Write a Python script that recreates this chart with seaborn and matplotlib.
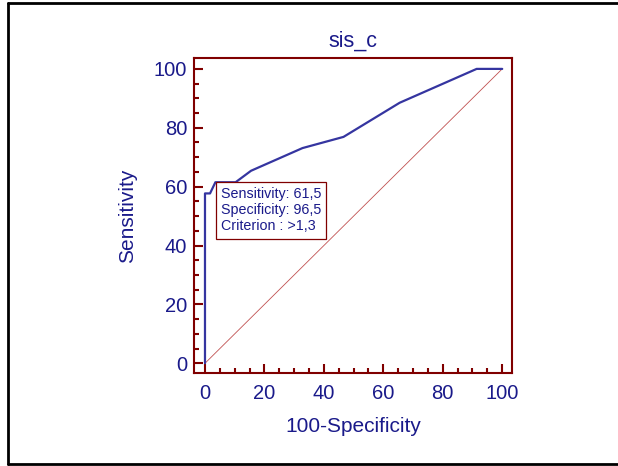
import matplotlib
matplotlib.use("Agg")
import matplotlib.pyplot as plt
from matplotlib.lines import Line2D
from matplotlib.ticker import MultipleLocator
import seaborn as sns
import pandas as pd

# ROC curve points (100-Specificity, Sensitivity)
fpr = [0, 0, 1.7, 3.5, 10.3, 15.5, 32.8, 46.6, 65.5, 91.4, 100]
sens = [0, 57.7, 57.7, 61.5, 61.5, 65.4, 73.1, 76.9, 88.5, 100, 100]
diag_x = [0, 100]
diag_y = [0, 100]
title = "sis_c"
xlabel = "100-Specificity"
ylabel = "Sensitivity"
annot_lines = ["Sensitivity: 61,5", "Specificity: 96,5", "Criterion : >1,3"]
annot_point = (3.5, 61.5)
ticks = [0, 20, 40, 60, 80, 100]

sns.set_style("white")
plt.rcParams['font.family'] = ['Liberation Sans', 'DejaVu Sans']

navy = "#1a1a8a"
frame = "#800000"
curve = "#3535a0"

fig = plt.figure(figsize=(6.18, 4.66), dpi=100)
ax = fig.add_axes([0.3139, 0.2002, 0.829 - 0.3139, 0.8749 - 0.2002])

df = pd.DataFrame({"x": fpr, "y": sens})
dd = pd.DataFrame({"x": diag_x, "y": diag_y})
sns.lineplot(data=dd, x="x", y="y", ax=ax, color="#c05050", lw=0.6,
             sort=False, estimator=None)
sns.lineplot(data=df, x="x", y="y", ax=ax, color=curve, lw=1.6,
             sort=False, estimator=None)

ax.set_xlim(-3.7, 103.4)
ax.set_ylim(-3.2, 103.6)
ax.set_xticks(ticks)
ax.set_yticks(ticks)
ax.xaxis.set_minor_locator(MultipleLocator(5))
ax.yaxis.set_minor_locator(MultipleLocator(5))
ax.tick_params(which="major", direction="in", length=6.5, width=1.5,
               color=frame, labelcolor=navy, labelsize=14.5)
ax.tick_params(which="minor", direction="in", length=3.3, width=1.5, color=frame)
ax.tick_params(axis="x", pad=8)
ax.tick_params(axis="y", pad=5)
ax.tick_params(top=False, right=False, which="both")
ax.tick_params(bottom=True, left=True, which="both")
for s in ax.spines.values():
    s.set_color(frame)
    s.set_linewidth(1.5)
    s.set_visible(True)

ax.set_xlabel(xlabel, color=navy, fontsize=15, labelpad=10)
ax.set_ylabel(ylabel, color=navy, fontsize=15, labelpad=12)
ax.set_title(title, color=navy, fontsize=15.5, pad=8)

ax.annotate("\n".join(annot_lines), xy=annot_point, xycoords="data",
            xytext=(3.8, -3.5), textcoords="offset points",
            ha="left", va="top", fontsize=10.3, color=navy, linespacing=1.2,
            bbox=dict(boxstyle="square,pad=0.35", fc="white", ec=frame, lw=0.9))

# outer frame
fig.add_artist(Line2D([7.7/618, 7.7/618], [1 - 464/466, 1 - 3/466], color="black", lw=2, transform=fig.transFigure))
fig.add_artist(Line2D([7.7/618, 1.0], [1 - 3/466, 1 - 3/466], color="black", lw=2, transform=fig.transFigure))
fig.add_artist(Line2D([7.7/618, 1.0], [1 - 464/466, 1 - 464/466], color="black", lw=2, transform=fig.transFigure))

fig.savefig("out.png", dpi=100)
